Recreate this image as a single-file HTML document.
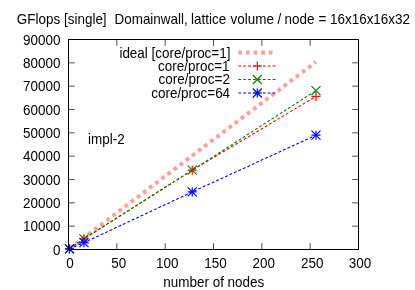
<!DOCTYPE html>
<html><head><meta charset="utf-8"><title>plot</title>
<style>
html,body{margin:0;padding:0;background:#fff;}
body{width:415px;height:290px;overflow:hidden;}
svg{display:block;will-change:transform;}
text{font-family:"Liberation Sans",sans-serif;font-size:13.45px;fill:#000;}
</style></head><body>
<svg width="415" height="290" viewBox="0 0 415 290">
<rect x="0" y="0" width="415" height="290" fill="#fff"/>

<text transform="translate(16.80 24.00) scale(1 1.04)">GFlops</text>
<text transform="translate(64.00 24.00) scale(1 1.04)">[single]</text>
<text transform="translate(114.50 24.00) scale(1 1.04)">Domainwall,</text>
<text transform="translate(191.00 24.00) scale(1 1.04)">lattice</text>
<text transform="translate(230.60 24.00) scale(1 1.04)">volume</text>
<text transform="translate(277.60 24.00) scale(1 1.04)">/</text>
<text transform="translate(284.60 24.00) scale(1 1.04)">node</text>
<text transform="translate(318.60 24.00) scale(1 1.04)">=</text>
<text transform="translate(330.00 24.00) scale(1 1.04)">16x16x16x32</text>
<text transform="translate(60.50 254.50) scale(1 1.04)" text-anchor="end">0</text>
<text transform="translate(60.50 231.17) scale(1 1.04)" text-anchor="end">10000</text>
<text transform="translate(60.50 207.83) scale(1 1.04)" text-anchor="end">20000</text>
<text transform="translate(60.50 184.50) scale(1 1.04)" text-anchor="end">30000</text>
<text transform="translate(60.50 161.17) scale(1 1.04)" text-anchor="end">40000</text>
<text transform="translate(60.50 137.83) scale(1 1.04)" text-anchor="end">50000</text>
<text transform="translate(60.50 114.50) scale(1 1.04)" text-anchor="end">60000</text>
<text transform="translate(60.50 91.17) scale(1 1.04)" text-anchor="end">70000</text>
<text transform="translate(60.50 67.83) scale(1 1.04)" text-anchor="end">80000</text>
<text transform="translate(60.50 44.50) scale(1 1.04)" text-anchor="end">90000</text>
<text transform="translate(69.90 267.50) scale(1 1.04)" text-anchor="middle">0</text>
<text transform="translate(118.83 267.50) scale(1 1.04)" text-anchor="middle">50</text>
<text transform="translate(167.17 267.50) scale(1 1.04)" text-anchor="middle">100</text>
<text transform="translate(215.50 267.50) scale(1 1.04)" text-anchor="middle">150</text>
<text transform="translate(263.83 267.50) scale(1 1.04)" text-anchor="middle">200</text>
<text transform="translate(312.17 267.50) scale(1 1.04)" text-anchor="middle">250</text>
<text transform="translate(360.00 267.50) scale(1 1.04)" text-anchor="middle">300</text>
<text transform="translate(213.80 287.00) scale(1 1.04)" text-anchor="middle">number of nodes</text>
<text transform="translate(88.00 144.10) scale(1 1.04)">impl-2</text>
<text transform="translate(230.40 58.00) scale(1 1.04)" text-anchor="end">ideal [core/proc=1]</text>
<text transform="translate(229.50 70.50) scale(1 1.04)" text-anchor="end">core/proc=1</text>
<text transform="translate(229.90 84.00) scale(1 1.04)" text-anchor="end">core/proc=2</text>
<text transform="translate(230.10 97.50) scale(1 1.04)" text-anchor="end">core/proc=64</text>
<path d="M69.47 248.75 L315.97 61.90" stroke="#ffa0a0" stroke-width="4" fill="none" stroke-dasharray="3.83 3.84" stroke-dashoffset="-0.4"/>
<path d="M238.30 52.50H276.30" stroke="#ffa0a0" stroke-width="4" fill="none" stroke-dasharray="3.8 3.8"/>
<path d="M69.47 248.80 L83.97 238.80 L192.23 170.17 L315.97 96.43" stroke="#ff0000" stroke-width="1.1" fill="none" stroke-dasharray="2.9 2"/>
<path d="M64.97 248.80h9.00 M69.47 244.30v9.00" stroke="#ff0000" stroke-width="1.2" fill="none"/>
<path d="M79.47 238.80h9.00 M83.97 234.30v9.00" stroke="#ff0000" stroke-width="1.2" fill="none"/>
<path d="M187.73 170.17h9.00 M192.23 165.67v9.00" stroke="#ff0000" stroke-width="1.2" fill="none"/>
<path d="M311.47 96.43h9.00 M315.97 91.93v9.00" stroke="#ff0000" stroke-width="1.2" fill="none"/>
<path d="M238.30 66.00 L276.30 66.00" stroke="#ff0000" stroke-width="1.1" fill="none" stroke-dasharray="2.9 2"/>
<path d="M252.80 66.00h9.00 M257.30 61.50v9.00" stroke="#ff0000" stroke-width="1.2" fill="none"/>
<path d="M69.47 248.80 L83.97 238.80 L192.23 170.17 L315.97 90.60" stroke="#007f00" stroke-width="1.1" fill="none" stroke-dasharray="2.9 2"/>
<path d="M64.97 244.30l9.00 9.00 M64.97 253.30l9.00 -9.00" stroke="#007f00" stroke-width="1.2" fill="none"/>
<path d="M79.47 234.30l9.00 9.00 M79.47 243.30l9.00 -9.00" stroke="#007f00" stroke-width="1.2" fill="none"/>
<path d="M187.73 165.67l9.00 9.00 M187.73 174.67l9.00 -9.00" stroke="#007f00" stroke-width="1.2" fill="none"/>
<path d="M311.47 86.10l9.00 9.00 M311.47 95.10l9.00 -9.00" stroke="#007f00" stroke-width="1.2" fill="none"/>
<path d="M238.30 79.50 L276.30 79.50" stroke="#007f00" stroke-width="1.1" fill="none" stroke-dasharray="2.9 2"/>
<path d="M252.80 75.00l9.00 9.00 M252.80 84.00l9.00 -9.00" stroke="#007f00" stroke-width="1.2" fill="none"/>
<path d="M69.47 248.92 L83.97 242.70 L192.23 191.94 L315.97 135.17" stroke="#0000ff" stroke-width="1.1" fill="none" stroke-dasharray="2.9 2"/>
<path d="M64.97 248.92h9.00 M69.47 244.42v9.00" stroke="#0000ff" stroke-width="1.2" fill="none"/><path d="M64.97 244.42l9.00 9.00 M64.97 253.42l9.00 -9.00" stroke="#0000ff" stroke-width="1.2" fill="none"/>
<path d="M79.47 242.70h9.00 M83.97 238.20v9.00" stroke="#0000ff" stroke-width="1.2" fill="none"/><path d="M79.47 238.20l9.00 9.00 M79.47 247.20l9.00 -9.00" stroke="#0000ff" stroke-width="1.2" fill="none"/>
<path d="M187.73 191.94h9.00 M192.23 187.44v9.00" stroke="#0000ff" stroke-width="1.2" fill="none"/><path d="M187.73 187.44l9.00 9.00 M187.73 196.44l9.00 -9.00" stroke="#0000ff" stroke-width="1.2" fill="none"/>
<path d="M311.47 135.17h9.00 M315.97 130.67v9.00" stroke="#0000ff" stroke-width="1.2" fill="none"/><path d="M311.47 130.67l9.00 9.00 M311.47 139.67l9.00 -9.00" stroke="#0000ff" stroke-width="1.2" fill="none"/>
<path d="M238.30 93.00 L276.30 93.00" stroke="#0000ff" stroke-width="1.1" fill="none" stroke-dasharray="2.9 2"/>
<path d="M252.80 93.00h9.00 M257.30 88.50v9.00" stroke="#0000ff" stroke-width="1.2" fill="none"/><path d="M252.80 88.50l9.00 9.00 M252.80 97.50l9.00 -9.00" stroke="#0000ff" stroke-width="1.2" fill="none"/>
<g stroke="#000" stroke-width="1" fill="none">
<path stroke-width="0.7" d="M68.50 249.50h6.30 M358.50 249.50h-6.30"/>
<path stroke-width="0.7" d="M68.50 226.17h6.30 M358.50 226.17h-6.30"/>
<path stroke-width="0.7" d="M68.50 202.83h6.30 M358.50 202.83h-6.30"/>
<path stroke-width="0.7" d="M68.50 179.50h6.30 M358.50 179.50h-6.30"/>
<path stroke-width="0.7" d="M68.50 156.17h6.30 M358.50 156.17h-6.30"/>
<path stroke-width="0.7" d="M68.50 132.83h6.30 M358.50 132.83h-6.30"/>
<path stroke-width="0.7" d="M68.50 109.50h6.30 M358.50 109.50h-6.30"/>
<path stroke-width="0.7" d="M68.50 86.17h6.30 M358.50 86.17h-6.30"/>
<path stroke-width="0.7" d="M68.50 62.83h6.30 M358.50 62.83h-6.30"/>
<path stroke-width="0.7" d="M68.50 39.50h6.30 M358.50 39.50h-6.30"/>
<path stroke-width="0.7" d="M68.50 249.50v-6.30 M68.50 39.50v6.30"/>
<path stroke-width="0.7" d="M116.83 249.50v-6.30 M116.83 39.50v6.30"/>
<path stroke-width="0.7" d="M165.17 249.50v-6.30 M165.17 39.50v6.30"/>
<path stroke-width="0.7" d="M213.50 249.50v-6.30 M213.50 39.50v6.30"/>
<path stroke-width="0.7" d="M261.83 249.50v-6.30 M261.83 39.50v6.30"/>
<path stroke-width="0.7" d="M310.17 249.50v-6.30 M310.17 39.50v6.30"/>
<path stroke-width="0.7" d="M358.50 249.50v-6.30 M358.50 39.50v6.30"/>
<rect x="68.50" y="39.50" width="290.00" height="210.00"/>
</g>
</svg></body></html>
